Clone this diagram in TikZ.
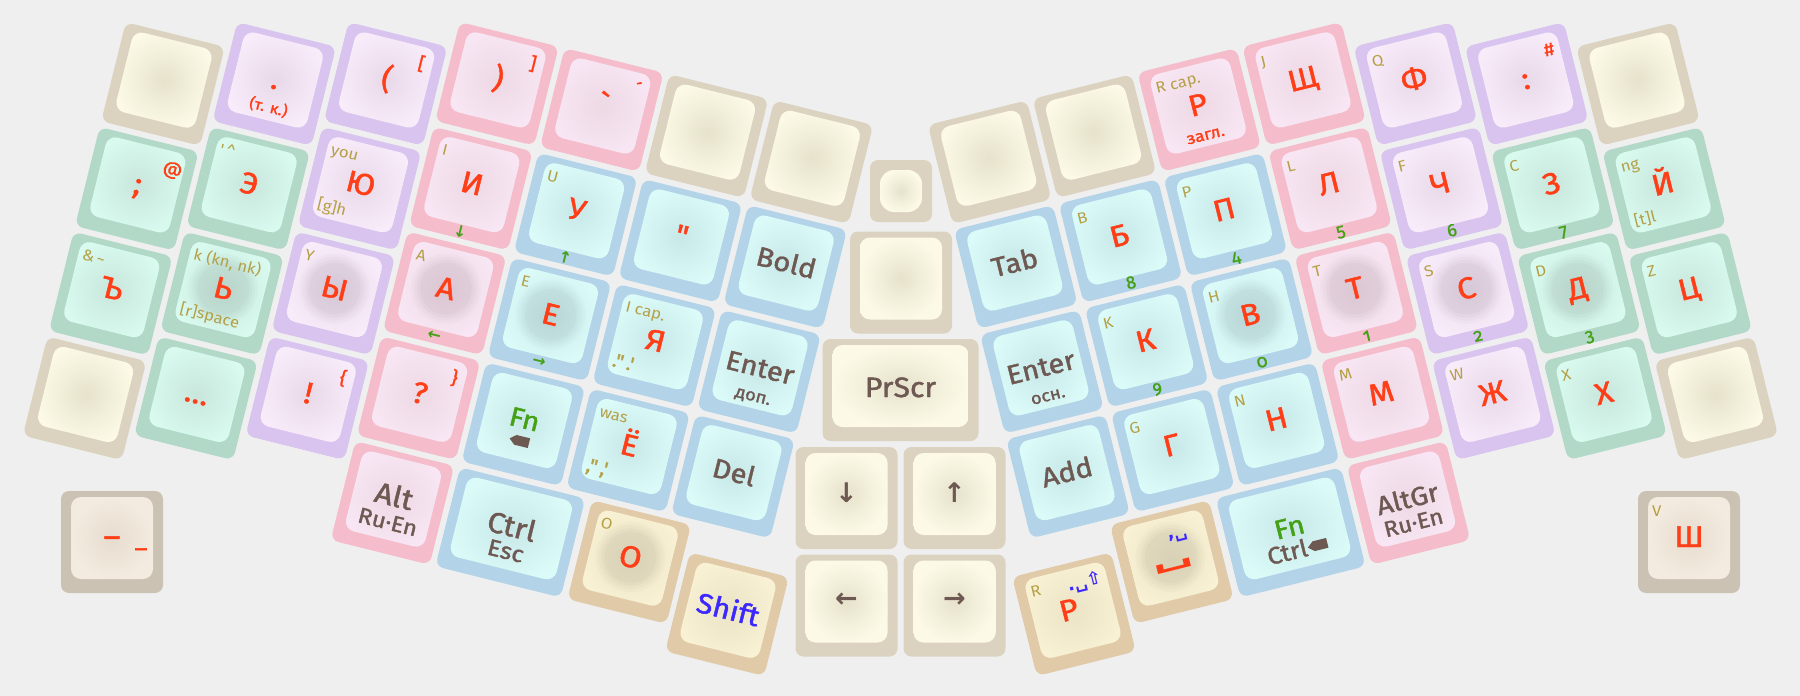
\documentclass[tikz,border=0pt]{standalone}
\usepackage{fontspec}
\usetikzlibrary{arrows.meta}
\newfontfamily\kf[FakeStretch=1.08]{Fira Sans}
\newfontfamily\kb[FakeBold=1.5,FakeStretch=1.08]{Fira Sans}
\newfontfamily\kn[Numbers=OldStyle,FakeBold=1.2]{Fira Sans}
\newfontfamily\dvs{DejaVu Sans}
\definecolor{bgc}{HTML}{EFEFEF}
\definecolor{beo}{HTML}{DBD3C0}\definecolor{bei}{HTML}{FCFAE6}\definecolor{bec}{HTML}{E6E2CC}
\definecolor{puo}{HTML}{D8C4EF}\definecolor{pui}{HTML}{F9ECFA}\definecolor{puc}{HTML}{E8D9E8}
\definecolor{pko}{HTML}{F5BDCB}\definecolor{pki}{HTML}{F9E6F4}\definecolor{pkc}{HTML}{ECD9E4}
\definecolor{gro}{HTML}{B2D9C8}\definecolor{gri}{HTML}{D8FAEF}\definecolor{grc}{HTML}{C9E6DC}
\definecolor{blo}{HTML}{B2D3E8}\definecolor{bli}{HTML}{DBFBF9}\definecolor{blc}{HTML}{C8E8E8}
\definecolor{tao}{HTML}{E0CAA8}\definecolor{tai}{HTML}{F8F1D4}\definecolor{tac}{HTML}{EAE3C6}
\definecolor{sto}{HTML}{CCC2B4}\definecolor{sti}{HTML}{F4EBE0}\definecolor{stc}{HTML}{E6DCCE}
\definecolor{redT}{HTML}{FF3D17}
\definecolor{olv}{HTML}{B4A046}
\definecolor{grT}{HTML}{44A014}
\definecolor{brT}{HTML}{6E5852}
\definecolor{blT}{HTML}{3C28FF}
% key: x, y, width, scheme, content
\newcommand\kK[5]{%
  \begin{scope}[shift={(#1,#2)}]
    \fill[#4o, rounded corners=8] ({-(#3)/2},-51) rectangle ({(#3)/2},51);
    \shade[inner color=#4c, outer color=#4i, rounded corners=10] ({-(#3)/2+10},-45) rectangle ({(#3)/2-10},37);
    #5
  \end{scope}}
\newcommand\kHm{\foreach \rr/\oo in {35/0.014,32/0.016,29/0.018,26/0.018}{\fill[black,opacity=\oo] (0,-5) circle[radius=\rr];}}
\newcommand\kML[1]{\node[mainL] at (0,5) {#1};}
\newcommand\kTL[1]{\node[lat] at (-37,-26) {#1};}
\newcommand\kBL[1]{\node[lat] at (-37,30) {#1};}
\newcommand\kBQ[1]{\node[lat,font=\kb\fontsize{19}{19}\selectfont] at (-37,30) {#1};}
\newcommand\kTR[1]{\node[sec] at (30,-22) {#1};}
\newcommand\kNB[1]{\node[num] at (0,49) {#1};}
\newcommand\kGA[1]{\node[garr] at (0,44) {#1};}
\newcommand\kTag[2]{\fill[brT, shift={(#1,#2)}] (-10,0) -- (-4,-5) -- (10,-5) -- (10,5) -- (-4,5) -- cycle;}
\newcommand\kTwo[6]{\node[wrd, font=\kb\fontsize{#1}{#1}\selectfont] at (0,#2) {#3};\node[wrd, font=\kb\fontsize{#4}{#4}\selectfont] at (0,#5) {#6};}
\newcommand\kW[1]{\node[wrd] at (0,5) {#1};}
\begin{document}
\begin{tikzpicture}[x=1pt,y=-1pt,
  every node/.append style={transform shape},
  mainL/.style={font=\kb\fontsize{30}{30}\selectfont, text=redT, anchor=base, inner sep=0pt},
  wrd/.style={font=\kb\fontsize{27}{27}\selectfont, text=brT, anchor=base, inner sep=0pt},
  lat/.style={font=\kf\fontsize{15.5}{15.5}\selectfont, text=olv, anchor=base west, inner sep=0pt},
  sec/.style={font=\kb\fontsize{18}{18}\selectfont, text=redT, anchor=base, inner sep=0pt},
  num/.style={font=\kn\fontsize{18}{18}\selectfont, text=grT, anchor=base, inner sep=0pt},
  garr/.style={font=\dvs\bfseries\fontsize{16}{16}\selectfont, text=grT, inner sep=0pt},
  barr/.style={font=\dvs\bfseries\fontsize{27}{27}\selectfont, text=brT, inner sep=0pt},
  blsym/.style={font=\dvs\bfseries\fontsize{18}{18}\selectfont, text=blT, inner sep=0pt}]
\useasboundingbox (0,0) rectangle (1800,696);
\fill[bgc] (0,0) rectangle (1800,696);

% ---------- left half ----------
\begin{scope}[shift={(163,84)},rotate=-14]
 \kK{0}{0}{102}{be}{}
 \kK{108}{-27}{102}{pu}{\kML{.}\node[sec,font=\kb\fontsize{15}{15}\selectfont] at (0,29) {(т. к.)};}
 \kK{216}{-54}{102}{pu}{\kML{(}\kTR{[}}
 \kK{324}{-81}{102}{pk}{\kML{)}\kTR{]}}
 \kK{432}{-81}{102}{pk}{\kML{\symbol{"60}}\kTR{\symbol{"B4}}}
 \kK{540}{-81}{102}{be}{}
 \kK{648}{-81}{102}{be}{}
 \kK{0}{108}{102}{gr}{\kML{;}\kTR{@}}
 \kK{108}{81}{102}{gr}{\kTL{\symbol{"27}\,\textasciicircum}\kML{Э}}
 \kK{216}{54}{102}{pu}{\kTL{you}\kML{Ю}\kBL{[g]h}}
 \kK{324}{27}{102}{pk}{\kTL{I}\kML{И}\kGA{↓}}
 \kK{432}{27}{102}{bl}{\kTL{U}\kML{У}\kGA{↑}}
 \kK{540}{27}{102}{bl}{\kML{\symbol{"22}}}
 \kK{648}{27}{102}{bl}{\kW{Bold}}
 \kK{0}{216}{102}{gr}{\kTL{\&\,\textasciitilde}\kML{Ъ}}
 \kK{108}{189}{102}{gr}{\kHm\kTL{k (kn, nk)}\kML{Ь}\kBL{[r]space}}
 \kK{216}{162}{102}{pu}{\kHm\kTL{Y}\kML{Ы}}
 \kK{324}{135}{102}{pk}{\kHm\kTL{A}\kML{А}\kGA{←}}
 \kK{432}{135}{102}{bl}{\kHm\kTL{E}\kML{Е}\kGA{→}}
 \kK{540}{135}{102}{bl}{\kTL{I cap.}\kML{Я}\kBQ{.\symbol{"22}\,.\symbol{"27}}}
 \kK{648}{135}{102}{bl}{\kTwo{27}{5}{Enter}{17}{30}{доп.}}
 \kK{0}{324}{102}{be}{}
 \kK{108}{297}{102}{gr}{\kML{…}}
 \kK{216}{270}{102}{pu}{\kML{!}\kTR{\{}}
 \kK{324}{243}{102}{pk}{\kML{?}\kTR{\}}}
 \kK{432}{243}{102}{bl}{\node[wrd,text=grT] at (0,4) {Fn};\kTag{0}{17}}
 \kK{540}{243}{102}{bl}{\kTL{was}\kML{Ё}\kBQ{,\symbol{"22}\,,\symbol{"27}}}
 \kK{648}{243}{102}{bl}{\kW{Del}}
 \kK{324}{351}{102}{pk}{\kTwo{29}{3}{Alt}{22}{27}{Ru·En}}
 \kK{445.5}{351}{129}{bl}{\kTwo{29}{4}{Ctrl}{23}{27}{Esc}}
 \kK{568}{351}{102}{ta}{\kHm\kTL{O}\kML{О}}
 \kK{675.5}{378}{102}{ta}{\node[wrd,text=blT,font=\kb\fontsize{28}{28}\selectfont] at (0,5) {Shift};}
\end{scope}

% ---------- right half ----------
\begin{scope}[shift={(1638,84)},rotate=14]
 \kK{0}{0}{102}{be}{}
 \kK{-108}{-27}{102}{pu}{\kML{:}\kTR{\#}}
 \kK{-216}{-54}{102}{pu}{\kTL{Q}\kML{Ф}}
 \kK{-324}{-81}{102}{pk}{\kTL{J}\kML{Щ}}
 \kK{-432}{-81}{102}{pk}{\kTL{R cap.}\kML{Р}\node[sec,font=\kb\fontsize{16}{16}\selectfont] at (0,31) {загл.};}
 \kK{-540}{-81}{102}{be}{}
 \kK{-648}{-81}{102}{be}{}
 \kK{0}{108}{102}{gr}{\kTL{ng}\kML{Й}\kBL{[t]l}}
 \kK{-108}{81}{102}{gr}{\kTL{C}\kML{З}\kNB{7}}
 \kK{-216}{54}{102}{pu}{\kTL{F}\kML{Ч}\kNB{6}}
 \kK{-324}{27}{102}{pk}{\kTL{L}\kML{Л}\kNB{5}}
 \kK{-432}{27}{102}{bl}{\kTL{P}\kML{П}\kNB{4}}
 \kK{-540}{27}{102}{bl}{\kTL{B}\kML{Б}\kNB{8}}
 \kK{-648}{27}{102}{bl}{\kW{Tab}}
 \kK{0}{216}{102}{gr}{\kTL{Z}\kML{Ц}}
 \kK{-108}{189}{102}{gr}{\kHm\kTL{D}\kML{Д}\kNB{3}}
 \kK{-216}{162}{102}{pu}{\kHm\kTL{S}\kML{С}\kNB{2}}
 \kK{-324}{135}{102}{pk}{\kHm\kTL{T}\kML{Т}\kNB{1}}
 \kK{-432}{135}{102}{bl}{\kHm\kTL{H}\kML{В}\kNB{0}}
 \kK{-540}{135}{102}{bl}{\kTL{K}\kML{К}\kNB{9}}
 \kK{-648}{135}{102}{bl}{\kTwo{27}{5}{Enter}{17}{30}{осн.}}
 \kK{0}{324}{102}{be}{}
 \kK{-108}{297}{102}{gr}{\kTL{X}\kML{Х}}
 \kK{-216}{270}{102}{pu}{\kTL{W}\kML{Ж}}
 \kK{-324}{243}{102}{pk}{\kTL{M}\kML{М}}
 \kK{-432}{243}{102}{bl}{\kTL{N}\kML{Н}}
 \kK{-540}{243}{102}{bl}{\kTL{G}\kML{Г}}
 \kK{-648}{243}{102}{bl}{\kW{Add}}
 \kK{-324}{351}{102}{pk}{\kTwo{26}{5}{AltGr}{22}{28}{Ru·En}}
 \kK{-445.5}{351}{129}{bl}{\node[wrd,text=grT,font=\kb\fontsize{27}{27}\selectfont] at (0,4) {Fn};\node[wrd,font=\kb\fontsize{24}{24}\selectfont] at (-8,27) {Ctrl};\kTag{23}{19}}
 \kK{-568}{351}{102}{ta}{\kHm\node[blsym] at (12,-22) {,␣};\node[mainL,font=\dvs\bfseries\fontsize{36}{36}\selectfont,anchor=center,xscale=1.6,yscale=0.75] at (1,5) {␣};}
 \kK{-675.5}{378}{102}{ta}{\kTL{R}\node[mainL] at (-4,5) {Р};\node[blsym] at (18,-28) {.␣⇧};}
\end{scope}

% ---------- centre ----------
\fill[beo, rounded corners=8] (870,160) rectangle (932,222);
\shade[inner color=bec, outer color=bei, rounded corners=14] (880,170) rectangle (922,212);
\kK{901}{282.5}{102}{be}{}
\kK{900.5}{390}{156}{be}{\node[wrd,font=\kb\fontsize{28}{28}\selectfont] at (0,7) {PrScr};}
\kK{846.5}{498}{102}{be}{\node[barr] at (0,-5) {↓};}
\kK{954.5}{498}{102}{be}{\node[barr] at (0,-5) {↑};}
\kK{846.5}{605.5}{102}{be}{\node[barr] at (0,-5) {←};}
\kK{954.5}{605.5}{102}{be}{\node[barr] at (0,-5) {→};}

% ---------- stand-alone keys ----------
\kK{112}{542}{102}{st}{\node[mainL] at (0,5) {–};\node[mainL,font=\kb\fontsize{22}{22}\selectfont] at (29,5) {\_};}
\kK{1689}{542}{102}{st}{\kTL{V}\kML{Ш}}
\end{tikzpicture}
\end{document}
